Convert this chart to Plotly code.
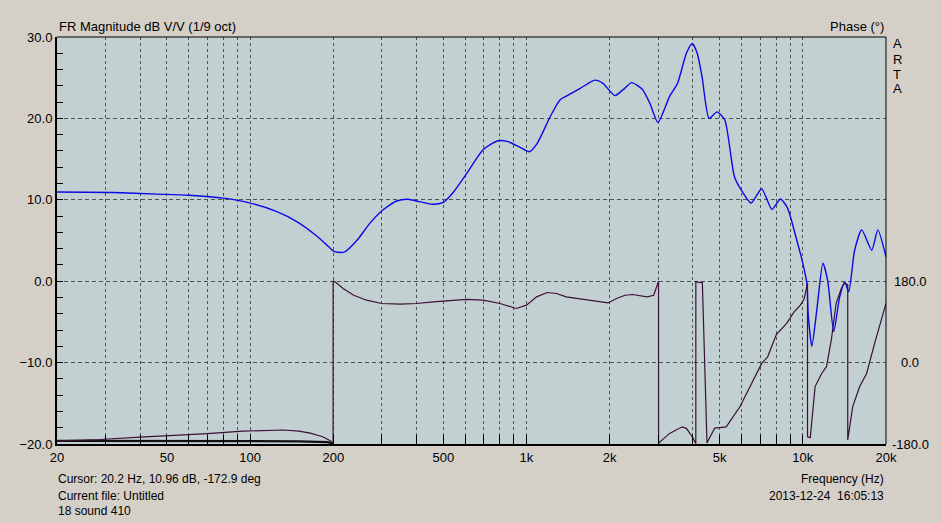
import numpy as np
import plotly.graph_objects as go

# ---------------- data ----------------
mag_freq = [20, 32, 46, 60, 80, 100, 125, 148, 175, 190, 200, 208, 220, 244, 271, 302, 339, 372,
            410, 458, 498, 540, 608, 694, 788, 858, 948, 1023, 1094, 1218, 1324, 1440, 1566, 1770,
            1892, 2088, 2250, 2400, 2620, 2796, 2990, 3296, 3520, 3790, 3980, 4148, 4320, 4580,
            4892, 5220, 5660, 6040, 6500, 7100, 7730, 8300, 8800, 9500, 10000, 10350, 10450,
            10780, 11240, 11820, 12300, 12940, 13600, 14180, 14660, 15400, 16340, 17760, 18680, 20000]
mag_db = [10.96, 10.9, 10.7, 10.55, 10.2, 9.6, 8.55, 7.3, 5.5, 4.4, 3.7, 3.55, 3.6, 5.05, 7.1, 8.75,
          9.85, 10.06, 9.77, 9.45, 9.64, 10.8, 13.25, 16.1, 17.26, 17.14, 16.45, 15.9, 16.94, 20.2,
          22.3, 23.0, 23.7, 24.7, 24.3, 22.8, 23.6, 24.4, 23.6, 21.85, 19.5, 22.7, 24.3, 28.0, 29.2,
          28.0, 25.1, 20.0, 20.8, 19.8, 12.8, 11.0, 9.6, 11.35, 8.8, 10.1, 9.0, 5.1, 2.2, -0.3, -3.9,
          -8.0, -3.5, 2.2, 0.1, -6.2, -1.9, -0.1, -1.3, 3.8, 6.3, 3.8, 6.3, 3.0]

ph_freq = [20, 28.6, 40, 50, 70, 94, 115, 132, 150, 165, 183, 195, 199.6,
           199.7, 203, 217, 237, 264, 299, 349, 400, 460, 606, 698, 802, 920, 1000, 1088, 1187,
           1284, 1392, 1602, 1842, 1974, 2118, 2274, 2420, 2732, 2886, 3000, 3005,
           3006, 3020, 3296, 3660, 3790, 3980, 4100,
           4101, 4150, 4330, 4500,
           4520, 4800, 5280, 5920, 6600, 7100, 7460, 8020, 8740, 9300, 9800, 10100, 10400,
           10401, 10640, 11080, 11700, 12180, 12680, 13200, 13800, 14180, 14540,
           14541, 15150, 16060, 17020, 18180, 20000]
ph_deg = [-173, -170, -165, -162, -157, -151.5, -149.5, -149, -151.5, -156, -164, -173, -179,
          180, 178.5, 163.8, 149, 138, 130.7, 129.2, 130.7, 134.3, 139.6, 138, 130.7, 119.7, 127,
          145.3, 155, 152.8, 145.3, 140.2, 135.8, 132, 141.8, 149, 150.6, 145.3, 149, 175, 180,
          -180, -177, -156.6, -142, -145.4, -164, -179,
          180, 178, 177, -178,
          -175, -145, -142, -97.7, -38.7, -1.8, 12.8, 62, 86.6, 112, 127, 140, 176,
          -164, -166, -53, -24, -9, 50, 131, 165, 176, 172,
          -171, -98, -53, -24, 42, 131]

base_freq = [20, 100, 150, 190, 200]
base_deg = [-173, -173, -174, -176, -179]

x_tick_vals = [20, 30, 40, 50, 60, 70, 80, 90, 100, 200, 300, 400, 500, 600, 700, 800, 900,
               1000, 2000, 3000, 4000, 5000, 6000, 7000, 8000, 9000, 10000, 20000]
x_tick_text = ["20", "", "", "50", "", "", "", "", "100", "200", "", "", "500", "", "", "", "",
               "1k", "2k", "", "", "5k", "", "", "", "", "10k", "20k"]
phase_ticks = [180, 0, -180]
phase_tick_text = ["180.0", "0.0", "-180.0"]

# ---------------- figure ----------------
FONT = "Arial, Liberation Sans, sans-serif"
W, H = 942, 523
L, R, T, B = 57, 56, 37, 79
PW, PH = W - L - R, H - T - B


def px(x):
    return (x - L) / PW


def py(y):
    return (H - B - y) / PH


fig = go.Figure()
fig.add_trace(go.Scatter(x=base_freq, y=base_deg, mode="lines", yaxis="y2",
                         line=dict(color="#101010", width=2.2), hoverinfo="skip"))
fig.add_trace(go.Scatter(x=ph_freq, y=ph_deg, mode="lines", yaxis="y2",
                         line=dict(color="#3a1035", width=1.2), hoverinfo="skip"))
fig.add_trace(go.Scatter(x=mag_freq, y=mag_db, mode="lines",
                         line=dict(color="#0a0ae6", width=1.4, shape="spline", smoothing=0.6),
                         hoverinfo="skip"))

grid_col = "#4a5552"
fig.update_layout(
    width=W, height=H,
    margin=dict(l=L, r=R, t=T, b=B, pad=0),
    paper_bgcolor="#d4d0c8",
    plot_bgcolor="#c3d0d2",
    showlegend=False,
    font=dict(family=FONT, size=13, color="#000000"),
    xaxis=dict(type="log", range=[np.log10(20), np.log10(20000)],
               tickvals=x_tick_vals, ticktext=x_tick_text,
               ticks="inside", ticklen=9, tickwidth=1, tickcolor="#000",
               showgrid=True, gridcolor=grid_col, gridwidth=1, griddash="3px,3px",
               showline=True, linewidth=2, linecolor="#000", zeroline=False,
               tickfont=dict(size=13)),
    yaxis=dict(range=[-20, 30], tickvals=[-20, -10, 0, 10, 20, 30], tickformat=".1f",
               ticks="inside", ticklen=6, tickcolor="#000",
               minor=dict(dtick=2, ticks="inside", ticklen=6, tickcolor="#000", showgrid=False),
               showgrid=True, gridcolor=grid_col, gridwidth=1, griddash="4px,3px",
               showline=True, linewidth=2, linecolor="#000", zeroline=False,
               tickfont=dict(size=13)),
    yaxis2=dict(range=[-180, 720], overlaying="y", side="right", showgrid=False,
                showticklabels=False, ticks="", zeroline=False, showline=False),
)

# top and right frame lines
fig.add_shape(type="line", xref="paper", yref="paper", x0=0, x1=1, y0=1, y1=1,
              line=dict(color="#000", width=1))
fig.add_shape(type="line", xref="paper", yref="paper", x0=1, x1=1, y0=0, y1=1,
              line=dict(color="#000", width=1))

ann = []
for v, t in zip(phase_ticks, phase_tick_text):
    ann.append(dict(x=px(910), y=v, xref="paper", yref="y2", text=t, showarrow=False,
                    xanchor="center", yanchor="middle", font=dict(size=13)))
ann.append(dict(x=px(57), y=py(27), xref="paper", yref="paper", text="FR Magnitude dB V/V (1/9 oct)",
                showarrow=False, xanchor="left", yanchor="middle"))
ann.append(dict(x=px(886), y=py(26), xref="paper", yref="paper", text="Phase (°)",
                showarrow=False, xanchor="right", yanchor="middle"))
for i, ch in enumerate("ARTA"):
    ann.append(dict(x=px(897), y=py(44 + 15 * i), xref="paper", yref="paper", text=ch,
                    showarrow=False, xanchor="center", yanchor="middle", borderpad=0,
                    font=dict(size=13)))
ann.append(dict(x=px(56), y=py(479), xref="paper", yref="paper",
                text="Cursor: 20.2 Hz, 10.96 dB, -172.9 deg", showarrow=False,
                xanchor="left", yanchor="middle", font=dict(size=12)))
ann.append(dict(x=px(56), y=py(496), xref="paper", yref="paper", text="Current file: Untitled",
                showarrow=False, xanchor="left", yanchor="middle", font=dict(size=12)))
ann.append(dict(x=px(56), y=py(511), xref="paper", yref="paper", text="18 sound 410",
                showarrow=False, xanchor="left", yanchor="middle", font=dict(size=12)))
ann.append(dict(x=px(886), y=py(479), xref="paper", yref="paper", text="Frequency (Hz)",
                showarrow=False, xanchor="right", yanchor="middle", font=dict(size=12)))
ann.append(dict(x=px(886), y=py(496), xref="paper", yref="paper", text="2013-12-24  16:05:13",
                showarrow=False, xanchor="right", yanchor="middle", font=dict(size=12)))
fig.update_layout(annotations=ann)

fig.write_html("out.html",
               config={"displayModeBar": False},
               post_script="document.body.style.margin='0px';"
                           "document.body.style.backgroundColor='#d4d0c8';"
                           "document.body.style.overflow='hidden';")
